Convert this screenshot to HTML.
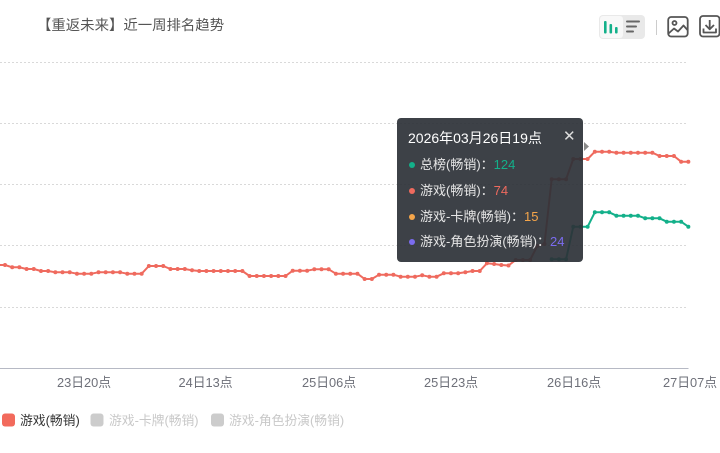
<!DOCTYPE html>
<html>
<head>
<meta charset="utf-8">
<style>
  html,body{margin:0;padding:0;background:#fff;}
  body{width:720px;height:453px;position:relative;overflow:hidden;font-family:"Liberation Sans","Noto Sans CJK SC",sans-serif;}
  .abs{position:absolute;white-space:nowrap;}
  .title{left:37px;top:16px;font-size:14.4px;color:#555;line-height:20px;}
  .xl{top:375px;font-size:12.8px;color:#6e7079;line-height:16px;transform:translateX(-50%);}
  .leg{top:412.5px;font-size:12.8px;line-height:16px;}
  .tip{left:397px;top:118px;width:186px;height:144px;background:rgba(44,49,55,0.92);border-radius:4px;}
  .tt{position:absolute;left:11px;top:10px;font-size:14px;color:#fff;line-height:20px;white-space:nowrap;}
  .x{position:absolute;left:166px;top:9px;font-size:15px;color:#ddd;line-height:20px;}
  .row{position:absolute;left:23px;font-size:13px;color:#e6e6e6;line-height:18px;white-space:nowrap;}
  .dot{position:absolute;left:12px;width:6px;height:6px;border-radius:3px;}
</style>
</head>
<body>
<svg class="abs" style="left:0;top:0" width="720" height="453" viewBox="0 0 720 453">
  <defs>
    <marker id="mr" markerWidth="6" markerHeight="6" refX="3" refY="3" markerUnits="userSpaceOnUse">
      <circle cx="3" cy="3" r="2" fill="#ef6a5e"/>
    </marker>
    <marker id="mg" markerWidth="6" markerHeight="6" refX="3" refY="3" markerUnits="userSpaceOnUse">
      <circle cx="3" cy="3" r="2" fill="#13b08a"/>
    </marker>
  </defs>
  <!-- grid -->
  <g stroke="#d9d9d9" stroke-width="1" stroke-dasharray="2 2">
    <line x1="0" y1="62.5" x2="688" y2="62.5"/>
    <line x1="0" y1="123.5" x2="688" y2="123.5"/>
    <line x1="0" y1="184.5" x2="688" y2="184.5"/>
    <line x1="0" y1="245.5" x2="688" y2="245.5"/>
    <line x1="0" y1="307.5" x2="688" y2="307.5"/>
  </g>
  <line x1="0" y1="368.5" x2="688.5" y2="368.5" stroke="#b6b9c4" stroke-width="1"/>

  <!-- red series -->
  <polyline fill="none" stroke="#ef6a5e" stroke-width="2" stroke-linejoin="round"
    marker-start="url(#mr)" marker-mid="url(#mr)" marker-end="url(#mr)"
    points="-2.2,265 5,265 12.19,267.3 19.39,267.3 26.58,269 33.77,269 40.97,271 48.16,271 55.35,272.3 62.54,272.3 69.74,272.3 76.93,273.7 84.12,273.7 91.32,273.7 98.51,272.3 105.7,272.3 112.9,272.3 120.09,272.3 127.28,273.7 134.47,273.7 141.67,273.7 148.86,266 156.05,266 163.25,266 170.44,269 177.63,269 184.83,269 192.02,270.3 199.21,271 206.4,271 213.6,271 220.79,271 227.98,271 235.18,271 242.37,271 249.56,276 256.76,276 263.95,276 271.14,276 278.33,276 285.53,276 292.72,270.7 299.91,270.7 307.11,270.7 314.3,269.3 321.49,269.3 328.69,269.3 335.88,273.7 343.07,273.7 350.26,273.7 357.46,273.7 364.65,279 371.84,279 379.04,274.7 386.23,274.7 393.42,274.7 400.62,276.7 407.81,276.7 415,276.7 422.19,275.3 429.39,276.7 436.58,276.7 443.77,273.3 450.97,273.3 458.16,273.3 465.35,272.3 472.55,271 479.74,271 486.93,263.3 494.12,264 501.32,265 508.51,265.5 515.7,260 522.9,260 530.09,260 537.28,246 544.48,244 551.67,179.3 558.86,179.3 566.05,179.3 573.25,159 580.44,159 587.63,159 594.83,151.7 602.02,151.7 609.21,151.7 616.41,152.7 623.6,152.7 630.79,152.7 637.98,152.7 645.18,152.7 652.37,152.7 659.56,156 666.76,156 673.95,156 681.14,161.7 688.34,161.7"/>

  <!-- green series -->
  <polyline fill="none" stroke="#13b08a" stroke-width="2" stroke-linejoin="round"
    marker-start="url(#mg)" marker-mid="url(#mg)" marker-end="url(#mg)"
    points="551.67,259.3 558.86,259.3 566.05,259.3 573.25,226.7 580.44,226.7 587.63,226.7 594.83,212.3 602.02,212.3 609.21,212.3 616.41,215.7 623.6,215.7 630.79,215.7 637.98,215.7 645.18,218.3 652.37,218.3 659.56,218.3 666.76,221.7 673.95,221.7 681.14,221.7 688.34,226.7"/>

  <!-- toolbar -->
  <rect x="599" y="15" width="46" height="24" rx="4" fill="#e9e9e9"/>
  <rect x="600" y="16" width="23" height="22" rx="3" fill="#f8f8f8"/>
  <g fill="#13b08a">
    <rect x="604" y="21" width="2.6" height="12.5" rx="1"/>
    <rect x="609.5" y="24" width="2.6" height="9.5" rx="1"/>
    <rect x="615" y="27" width="2.6" height="6.5" rx="1"/>
  </g>
  <g stroke="#666" stroke-width="2" stroke-linecap="round">
    <line x1="627" y1="21.5" x2="639" y2="21.5"/>
    <line x1="627" y1="26.5" x2="636" y2="26.5"/>
    <line x1="627" y1="31.5" x2="633" y2="31.5"/>
  </g>
  <line x1="656.5" y1="20" x2="656.5" y2="35" stroke="#ccc" stroke-width="1"/>
  <g fill="none" stroke="#555" stroke-width="1.8" stroke-linejoin="round">
    <rect x="668.2" y="17" width="19.5" height="19.5" rx="3"/>
    <circle cx="674.5" cy="23" r="2"/>
    <polyline points="668.5,33.5 674,28.5 678,31.5 683.5,25.5 687.5,30"/>
    <rect x="700" y="16" width="19.5" height="20.5" rx="3"/>
    <line x1="709.7" y1="20" x2="709.7" y2="29"/>
    <polyline points="705.5,25 709.7,29.3 714,25"/>
    <polyline points="703.5,28.5 703.5,32.5 716,32.5 716,28.5"/>
  </g>

  <!-- legend -->
  <rect x="2" y="413.5" width="13" height="13" rx="3" fill="#f26a5c"/>
  <rect x="90.5" y="413.5" width="13" height="13" rx="3" fill="#cccccc"/>
  <rect x="211" y="413.5" width="13" height="13" rx="3" fill="#cccccc"/>

  <!-- tooltip pointer -->
  <polygon points="584,142 589,146.5 584,151" fill="#8a8a8a"/>
</svg>

<div class="abs title">【重返未来】近一周排名趋势</div>

<div class="abs xl" style="left:84px">23日20点</div>
<div class="abs xl" style="left:205.5px">24日13点</div>
<div class="abs xl" style="left:329px">25日06点</div>
<div class="abs xl" style="left:451px">25日23点</div>
<div class="abs xl" style="left:574px">26日16点</div>
<div class="abs xl" style="left:690px">27日07点</div>

<div class="abs leg" style="left:20px;color:#333">游戏(畅销)</div>
<div class="abs leg" style="left:109px;color:#c8c8c8">游戏-卡牌(畅销)</div>
<div class="abs leg" style="left:229px;color:#c8c8c8">游戏-角色扮演(畅销)</div>

<div class="abs tip">
  <div class="tt">2026年03月26日19点</div>
  <div class="x">✕</div>
  <div class="dot" style="top:44px;background:#13b08a"></div>
  <div class="row" style="top:38px">总榜(畅销)：<span style="color:#13b08a">124</span></div>
  <div class="dot" style="top:70px;background:#ef6a5e"></div>
  <div class="row" style="top:64px">游戏(畅销)：<span style="color:#ef6a5e">74</span></div>
  <div class="dot" style="top:95.5px;background:#f5a54a"></div>
  <div class="row" style="top:89.5px">游戏-卡牌(畅销)：<span style="color:#f5a54a">15</span></div>
  <div class="dot" style="top:121px;background:#7b6cf0"></div>
  <div class="row" style="top:115px">游戏-角色扮演(畅销)：<span style="color:#7b6cf0">24</span></div>
</div>
</body>
</html>
